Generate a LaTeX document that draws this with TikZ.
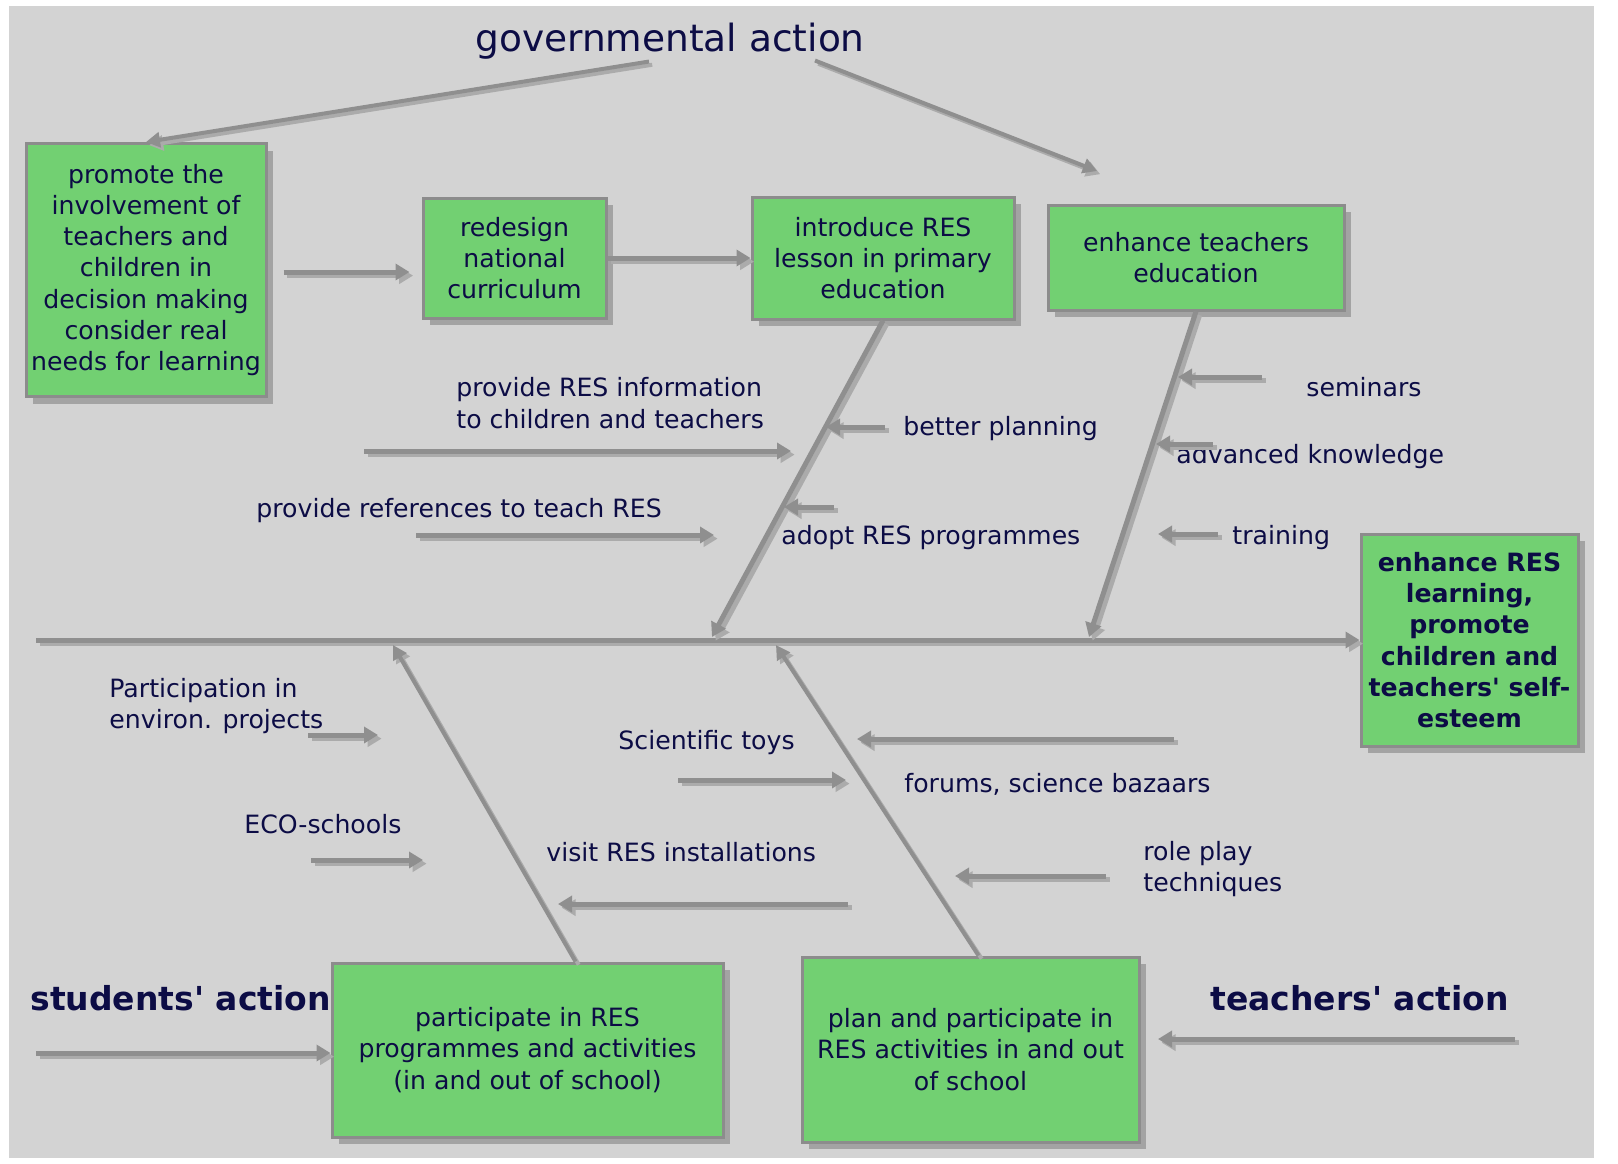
\documentclass[tikz,border=0pt]{standalone}
\usepackage{fontspec}
\setmainfont{DejaVu Sans}
\usetikzlibrary{arrows.meta,shadows}
\definecolor{bgray}{HTML}{D3D3D3}
\definecolor{boxgreen}{HTML}{72D072}
\definecolor{boxline}{HTML}{8C8C8C}
\definecolor{boxshadow}{HTML}{A3A3A3}
\definecolor{arrowgray}{HTML}{8F8F8F}
\definecolor{arrowshadow}{HTML}{ABABAB}
\definecolor{ink}{HTML}{0C0C45}
\newcommand\apos{\textquotesingle}
\tikzset{
  body/.style={font=\fontsize{12.6}{15.6}\selectfont},
  box/.style={body, draw=boxline, line width=1.5pt, fill=boxgreen, align=center, text=ink, inner sep=0pt,
    execute at begin node={\rule{0pt}{15.5pt}},
    drop shadow={shadow xshift=3.5pt, shadow yshift=-3.5pt, fill=boxshadow, opacity=1}},
  lbl/.style={body, text=ink, align=left, inner sep=0pt, anchor=west, yshift=-1pt},
  head/.style={text=ink, inner sep=0pt, font=\fontsize{16.5}{19}\selectfont\bfseries, anchor=west},
  arr/.style={draw=arrowgray, line width=2.5pt, -{Triangle[length=7pt,width=8pt]},
    preaction={draw=arrowshadow, line width=2.5pt, -{Triangle[length=7pt,width=8pt]},
      transform canvas={shift={(1.8pt,-1.8pt)}}}},
  tarr/.style={draw=arrowgray, line width=2pt, -{Triangle[length=7pt,width=7.5pt]},
    preaction={draw=arrowshadow, line width=2pt, -{Triangle[length=7pt,width=7.5pt]},
      transform canvas={shift={(1.6pt,-1.6pt)}}}},
}
\begin{document}
\begin{tikzpicture}[x=0.5pt,y=-0.5pt]
\useasboundingbox (0,0) rectangle (1618,1163);
\fill[white] (0,0) rectangle (1618,1163);
\fill[bgray] (9,6) rectangle (1594,1158);

% boxes
\node[box, minimum width=120pt, minimum height=126.5pt] (A) at (146,270)
  {promote the\\involvement of\\teachers and\\children in\\decision making\\consider real\\needs for learning};
\node[box, minimum width=91.5pt, minimum height=60pt] (B) at (514.5,258)
  {redesign\\national\\curriculum};
\node[box, minimum width=131pt, minimum height=61pt] (C) at (883,258)
  {introduce RES\\lesson in primary\\education};
\node[box, minimum width=148pt, minimum height=52.5pt] (D) at (1196,257.5)
  {enhance teachers\\education};
\node[box, minimum width=108.5pt, minimum height=106pt, font=\fontsize{12.6}{15.6}\selectfont\bfseries] (E) at (1469.5,640)
  {enhance RES\\learning,\\promote\\children and\\teachers\apos{} self-\\esteem};
\node[box, minimum width=195.5pt, minimum height=87pt] (F) at (527.5,1050)
  {participate in RES\\programmes and activities\\(in and out of school)};
\node[box, minimum width=168.5pt, minimum height=92.5pt] (G) at (970.5,1049.5)
  {plan and participate in\\RES activities in and out\\of school};

% headings
\node[text=ink, inner sep=0pt, font=\fontsize{18.75}{22}\selectfont] (gov) at (670,41) {governmental action};
\node[head] (stud) at (30,998) {students\apos{} action};
\node[head] (teach) at (1210,998) {teachers\apos{} action};

% labels
\node[lbl] (l1) at (456,401) {provide RES information\\to children and teachers};
\node[lbl] (l2) at (256,509) {provide references to teach RES};
\node[lbl] (l3) at (903,427) {better planning};
\node[lbl] (l4) at (781,536) {adopt RES programmes};
\node[lbl] (l5) at (1306,385) {seminars};
\node[lbl] (l6) at (1176,455) {advanced knowledge};
\node[lbl] (l7) at (1232,536) {training};
\node[lbl] (l8) at (109,704) {Participation in\\environ. projects};
\node[lbl] (l9) at (244,822) {ECO-schools};
\node[lbl] (l10) at (546,850) {visit RES installations};
\node[lbl] (l11) at (618,741) {Scientific toys};
\node[lbl] (l12) at (904,782) {forums, science bazaars};
\node[lbl] (l13) at (1143,867) {role play\\techniques};

% spine and bones
\coordinate (tail) at (36,640);
\coordinate (j1) at (712,637);
\coordinate (j2) at (1089,637);
\coordinate (j3) at (393,645);
\coordinate (j4) at (776,645);
\draw[arr] (tail) -- (E.west);
\draw[arr] (C.south) -- (j1);
\draw[arr] (D.south) -- (j2);
\draw[tarr] ([xshift=24pt]F.north) -- (j3);
\draw[tarr] ([xshift=4pt]G.north) -- (j4);

% governmental action arrows
\coordinate (gd) at (1097,171);
\draw[tarr] ([shift={(-21,2)}]gov.south) -- (A.north);
\draw[tarr] ([shift={(145,1)}]gov.south) -- (gd);

% top row connectors
\draw[arr] ([shift={(16,2)}]A.east) -- ([shift={(-12,14)}]B.west);
\draw[arr] (B.east) -- (C.west);

% small cause arrows
\coordinate (a1s) at (364,451); \coordinate (a1e) at (791,451);
\coordinate (a2s) at (416,535); \coordinate (a2e) at (714,535);
\coordinate (a3s) at (885,427); \coordinate (a3e) at (826,427);
\coordinate (a4s) at (834,507); \coordinate (a4e) at (784,507);
\coordinate (a5s) at (1262,377); \coordinate (a5e) at (1178,377);
\coordinate (a6s) at (1213,444); \coordinate (a6e) at (1156,444);
\coordinate (a7s) at (1218,534); \coordinate (a7e) at (1158,534);
\coordinate (b1s) at (308,735); \coordinate (b1e) at (378,735);
\coordinate (b2s) at (311,860); \coordinate (b2e) at (423,860);
\coordinate (b3s) at (848,904); \coordinate (b3e) at (558,904);
\coordinate (b4s) at (678,780); \coordinate (b4e) at (846,780);
\coordinate (b5s) at (1174,739); \coordinate (b5e) at (857,739);
\coordinate (b6s) at (1106,876); \coordinate (b6e) at (955,876);
\foreach \p in {a1,a2,a3,a4,a5,a6,a7,b1,b2,b3,b4,b5,b6}
  \draw[arr] (\p s) -- (\p e);

% actors' arrows
\coordinate (sa) at (36,1053);
\coordinate (ta) at (1515,1039);
\coordinate (te) at (1158,1039);
\draw[arr] (sa) -- (sa -| F.west);
\draw[arr] (ta) -- (te);
\end{tikzpicture}
\end{document}
